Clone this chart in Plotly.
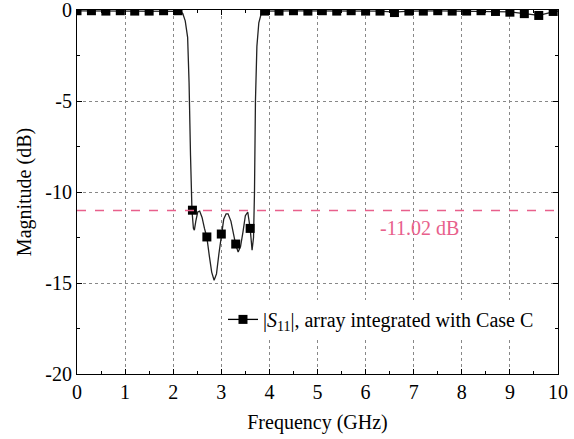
import plotly.graph_objects as go

# Curve
freq = [0.0, 0.5, 1.0, 1.5, 2.0, 2.15, 2.2, 2.25, 2.3, 2.33, 2.36, 2.39, 2.42, 2.44, 2.47,
        2.51, 2.55, 2.6, 2.65, 2.7, 2.75, 2.8, 2.85, 2.9, 2.95, 3.0, 3.05, 3.1, 3.14,
        3.2, 3.27, 3.3, 3.35, 3.4, 3.45, 3.5, 3.55, 3.6, 3.64, 3.67, 3.69, 3.71, 3.74,
        3.78, 3.83, 3.9, 4.5, 5.0, 5.5, 6.0, 6.3, 6.6, 6.9, 7.5, 8.0, 8.5, 9.0, 9.3,
        9.6, 9.9, 10.0]
mag = [-0.05, -0.05, -0.05, -0.06, -0.06, -0.08, -0.2, -0.6, -1.5, -4.0, -8.0, -11.0, -12.0,
       -12.1, -11.6, -11.1, -11.05, -11.4, -12.0, -12.5, -13.5, -14.4, -14.85, -14.5,
       -13.4, -12.3, -11.5, -11.2, -11.2, -11.6, -12.5, -12.9, -13.3, -13.0, -12.2,
       -11.3, -11.1, -12.0, -13.2, -12.5, -10.0, -5.0, -2.0, -0.7, -0.2, -0.06, -0.05,
       -0.05, -0.05, -0.06, -0.06, -0.12, -0.06, -0.05, -0.06, -0.06, -0.1, -0.2, -0.3,
       -0.1, -0.06]

# Markers every 0.3 GHz
mk_freq = [0.0, 0.3, 0.6, 0.9, 1.2, 1.5, 1.8, 2.1, 2.4, 2.7, 3.0, 3.3, 3.6, 3.9, 4.2, 4.5,
           4.8, 5.1, 5.4, 5.7, 6.0, 6.3, 6.6, 6.9, 7.2, 7.5, 7.8, 8.1, 8.4, 8.7, 9.0, 9.3,
           9.6, 9.9]
mk_mag = [-0.04, -0.04, -0.06, -0.04, -0.06, -0.06, -0.04, -0.04, -11.0, -12.47, -12.31, -12.86,
          -12.0, -0.06, -0.06, -0.04, -0.06, -0.04, -0.06, -0.04, -0.06, -0.06, -0.14, -0.06,
          -0.06, -0.04, -0.06, -0.06, -0.04, -0.08, -0.12, -0.2, -0.3, -0.08]

x_ticks = [0, 1, 2, 3, 4, 5, 6, 7, 8, 9, 10]
x_ticktext = ["0", "1", "2", "3", "4", "5", "6", "7", "8", "9", "10"]
y_ticks = [-20, -15, -10, -5, 0]
y_ticktext = ["-20", "-15", "-10", "-5", "0"]

ref_level = -11.02
ref_label = "-11.02 dB"
legend_name = "|<i>S</i><sub>11</sub>|, array integrated with Case C"

FONT = "Liberation Serif, Times New Roman, serif"
PINK = "#e8608c"
FS = 20

fig = go.Figure()
fig.add_trace(go.Scatter(x=freq, y=mag, mode="lines", line=dict(color="#222222", width=1.3),
                         showlegend=False, hoverinfo="skip", cliponaxis=True))
fig.add_trace(go.Scatter(x=mk_freq, y=mk_mag, mode="markers", cliponaxis=True,
                         marker=dict(symbol="square", size=9, color="black"),
                         showlegend=False))
# legend entry (drawn outside the visible range)
fig.add_trace(go.Scatter(x=[-2, -1], y=[-30, -30], mode="lines+markers", name=legend_name,
                         line=dict(color="black", width=1.3),
                         marker=dict(symbol="square", size=9, color="black")))

fig.add_shape(type="line", xref="paper", x0=0, x1=1, yref="y", y0=ref_level, y1=ref_level,
              line=dict(color=PINK, width=1.5, dash="dash"))
fig.add_annotation(x=7.13, y=ref_level, yshift=-17, text=ref_label, showarrow=False,
                   font=dict(family=FONT, size=FS, color=PINK))

axis_common = dict(showline=True, linecolor="black", linewidth=1, mirror="ticks",
                   ticks="inside", ticklen=5, tickcolor="black", showgrid=True,
                   gridcolor="#888888", griddash="dot", gridwidth=1, zeroline=False,
                   automargin=False, ticklabeloverflow="allow",
                   tickfont=dict(family=FONT, size=FS, color="black"))

fig.update_xaxes(range=[0, 10], tickmode="array", tickvals=x_ticks, ticktext=x_ticktext,
                 minor=dict(tickmode="linear", tick0=0, dtick=0.5, ticks="inside", ticklen=3,
                            tickcolor="black", showgrid=False),
                 title=dict(text="Frequency (GHz)", font=dict(family=FONT, size=FS, color="black"),
                            standoff=12),
                 **axis_common)
fig.update_yaxes(range=[-20, 0], tickmode="array", tickvals=y_ticks, ticktext=y_ticktext,
                 minor=dict(tickmode="linear", tick0=0, dtick=2.5, ticks="inside", ticklen=3,
                            tickcolor="black", showgrid=False),
                 title=dict(text="Magnitude (dB)", font=dict(family=FONT, size=FS, color="black"),
                            standoff=8),
                 **axis_common)

fig.update_layout(width=574, height=439, margin=dict(l=77, r=16, t=10, b=65),
                  paper_bgcolor="white", plot_bgcolor="white",
                  font=dict(family=FONT),
                  legend=dict(x=0.3035, y=0.15, xanchor="left", yanchor="middle",
                              bgcolor="white", borderwidth=0,
                              font=dict(family=FONT, size=FS, color="black")),
                  showlegend=True)

fig.write_html("out.html")
